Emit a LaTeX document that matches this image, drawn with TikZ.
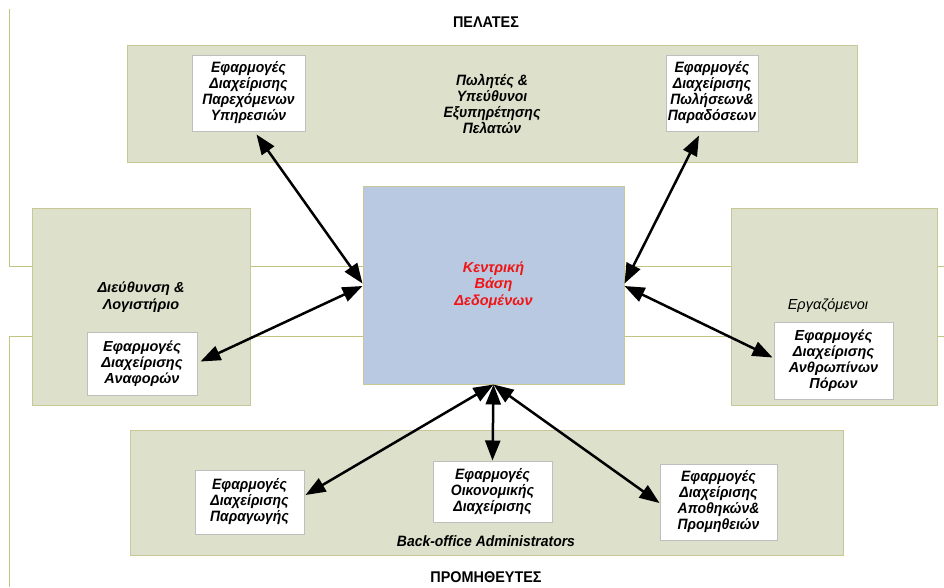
\documentclass[tikz,border=0pt]{standalone}
\usepackage{fontspec}
\setmainfont{Liberation Sans}
\newfontfamily\narrowfont{Liberation Sans}[FakeStretch=0.93]
\usetikzlibrary{arrows.meta,shadows}
\definecolor{olive}{RGB}{196,196,130}
\definecolor{groupfill}{RGB}{221,225,203}
\definecolor{groupline}{RGB}{200,200,150}
\definecolor{dbfill}{RGB}{184,201,225}
\definecolor{boxline}{RGB}{190,190,190}
\definecolor{dbtext}{RGB}{240,20,20}
\tikzset{
  group/.style={draw=groupline, fill=groupfill, line width=1pt, inner sep=0pt},
  app/.style={draw=boxline, fill=white, line width=1pt, inner sep=0pt, align=center,
    font=\narrowfont\bfseries\itshape\fontsize{15}{16}\selectfont,
    drop shadow={shadow xshift=1pt, shadow yshift=-1pt, fill=black!25, opacity=1}},
  widebox/.style={app, font=\bfseries\itshape\fontsize{14.5}{16}\selectfont},
  grouplabel/.style={align=center, font=\narrowfont\bfseries\itshape\fontsize{15}{16}\selectfont},
  partylabel/.style={font=\narrowfont\bfseries\fontsize{15.5}{16}\selectfont},
  link/.style={line width=2.5pt, {Triangle[length=20pt,width=15pt]}-{Triangle[length=20pt,width=15pt]}},
  guide/.style={draw=olive, line width=1pt}
}
\begin{document}
\begin{tikzpicture}[x=1pt,y=-1pt]
\useasboundingbox (0,0) rectangle (944,587);

% guide lines running behind the groups
\draw[guide] (9,9) -- (9,266) -- (944,266);
\draw[guide] (944,336) -- (9,336) -- (9,587);

% party labels
\node[partylabel] (clients) at (486,22) {ΠΕΛΑΤΕΣ};
\node[partylabel] (suppliers) at (486,577) {ΠΡΟΜΗΘΕΥΤΕΣ};

% user groups
\node[group, minimum width=730, minimum height=117] (sales) at (492,103.5) {};
\node[group, minimum width=218, minimum height=197] (mgmt) at (141,306.5) {};
\node[group, minimum width=206, minimum height=197] (staff) at (834,306.5) {};
\node[group, minimum width=713, minimum height=125] (back) at (486.5,492.5) {};

\node[grouplabel] at (492,104) {Πωλητές \&\\Υπεύθυνοι\\Εξυπηρέτησης\\Πελατών};
\node[grouplabel, font=\bfseries\itshape\fontsize{14.5}{17}\selectfont] at (141,297) {Διεύθυνση \&\\Λογιστήριο};
\node[grouplabel, font=\itshape\fontsize{14.5}{16}\selectfont] at (828,306) {Εργαζόμενοι};
\node[grouplabel] at (486,541) {Back-office Administrators};

% central database
\node[draw=groupline, fill=dbfill, line width=1pt, minimum width=261, minimum height=198,
  text=dbtext, align=center, font=\bfseries\itshape\fontsize{14.5}{16.5}\selectfont] (db) at (493.5,285)
  {Κεντρική\\Βάση\\Δεδομένων};

% applications
\node[app, minimum width=113, minimum height=76] (services) at (248.5,93)
  {Εφαρμογές\\Διαχείρισης\\Παρεχόμενων\\Υπηρεσιών};
\node[app, minimum width=92, minimum height=76] (salesapp) at (712,93)
  {Εφαρμογές\\Διαχείρισης\\Πωλήσεων\&\\Παραδόσεων};
\node[widebox, minimum width=110, minimum height=63] (reports) at (142,363.5)
  {Εφαρμογές\\Διαχείρισης\\Αναφορών};
\node[widebox, minimum width=119, minimum height=77] (hr) at (833.5,360.5)
  {Εφαρμογές\\Διαχείρισης\\Ανθρωπίνων\\Πόρων};
\node[app, minimum width=109, minimum height=64] (production) at (249.5,502)
  {Εφαρμογές\\Διαχείρισης\\Παραγωγής};
\node[app, minimum width=119, minimum height=61] (finance) at (492.5,491.5)
  {Εφαρμογές\\Οικονομικής\\Διαχείρισης};
\node[app, minimum width=117, minimum height=76] (stock) at (718.5,502)
  {Εφαρμογές\\Διαχείρισης\\Αποθηκών\&\\Προμηθειών};

% contact points on the database (canvas yshift: positive is up)
\coordinate (dbTL) at ([yshift=1.5]db.west);
\coordinate (dbL) at ([yshift=-1]db.west);
\coordinate (dbTR) at ([yshift=1.5]db.east);
\coordinate (dbR) at ([yshift=-1]db.east);

% links
\draw[link] ([xshift=8,yshift=-3]services.south) -- (dbTL);
\draw[link] ([xshift=-13,yshift=-4]salesapp.south) -- (dbTR);
\draw[link] ([xshift=3,yshift=2]reports.east) -- (dbL);
\draw[link] ([xshift=-1,yshift=3]hr.west) -- (dbR);
\draw[link] ([xshift=1,yshift=7]production.east) -- (db.south);
\draw[link] (finance.north) -- (db.south);
\draw[link] ([xshift=0,yshift=-1]stock.west) -- (db.south);
\end{tikzpicture}
\end{document}
